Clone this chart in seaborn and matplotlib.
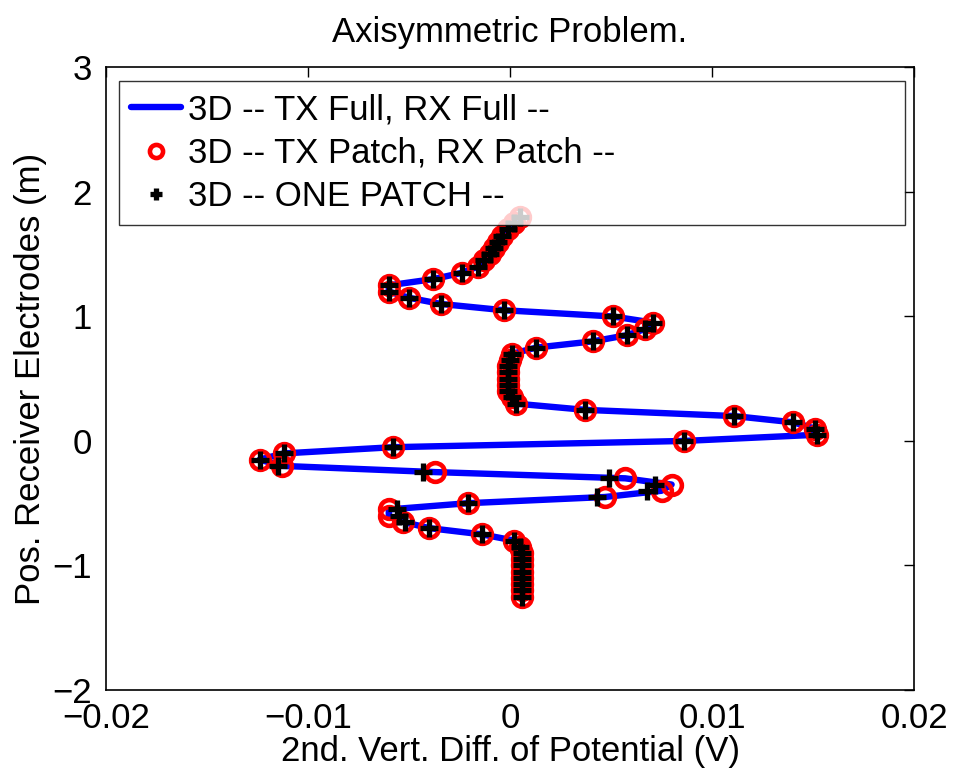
import numpy as np
import pandas as pd
import matplotlib
matplotlib.use("Agg")
import matplotlib.pyplot as plt
import seaborn as sns

# Receiver electrode positions (m), top to bottom
positions = [
    1.80, 1.75, 1.70, 1.65, 1.60, 1.55, 1.50, 1.45, 1.40, 1.35,
    1.30, 1.25, 1.20, 1.15, 1.10, 1.05, 1.00, 0.95, 0.90, 0.85,
    0.80, 0.75, 0.70, 0.65, 0.60, 0.55, 0.50, 0.45, 0.40, 0.35,
    0.30, 0.25, 0.20, 0.15, 0.10, 0.05, 0.00, -0.05, -0.10, -0.15,
    -0.20, -0.25, -0.30, -0.35, -0.40, -0.45, -0.50, -0.55, -0.60, -0.65,
    -0.70, -0.75, -0.80, -0.85, -0.90, -0.95, -1.00, -1.05, -1.10, -1.15,
    -1.20, -1.25,
]

# 3D -- TX Full, RX Full --
full_full = [
    0.0005, 0.0002, -0.0001, -0.0004, -0.0006, -0.0008, -0.0010, -0.0013, -0.0016, -0.0024,
    -0.0038, -0.0060, -0.0060, -0.0050, -0.0034, -0.0003, 0.0051, 0.0071, 0.0067, 0.0058,
    0.0041, 0.0013, 0.0001, 0.0000, -0.0001, -0.0001, -0.0001, -0.0001, -0.0001, 0.0001,
    0.0003, 0.0037, 0.0111, 0.0140, 0.0151, 0.0152, 0.0086, -0.0058, -0.0112, -0.0124,
    -0.0113, -0.0037, 0.0057, 0.0080, 0.0075, 0.0047, -0.0021, -0.0060, -0.0060, -0.0053,
    -0.0040, -0.0014, 0.0002, 0.0005, 0.0006, 0.0006, 0.0006, 0.0006, 0.0006, 0.0006,
    0.0006, 0.0006,
]

# 3D -- TX Patch, RX Patch --
patch_patch = list(full_full)

# 3D -- ONE PATCH --
one_patch = [
    0.0005, 0.0002, -0.0001, -0.0004, -0.0006, -0.0008, -0.0010, -0.0013, -0.0016, -0.0024,
    -0.0038, -0.0060, -0.0060, -0.0050, -0.0034, -0.0003, 0.0051, 0.0071, 0.0067, 0.0058,
    0.0041, 0.0013, 0.0001, 0.0000, -0.0001, -0.0001, -0.0001, -0.0001, -0.0001, 0.0001,
    0.0003, 0.0037, 0.0111, 0.0140, 0.0151, 0.0152, 0.0086, -0.0058, -0.0112, -0.0124,
    -0.0115, -0.0043, 0.0049, 0.0072, 0.0068, 0.0043, -0.0021, -0.0056, -0.0055, -0.0052,
    -0.0040, -0.0014, 0.0002, 0.0005, 0.0006, 0.0006, 0.0006, 0.0006, 0.0006, 0.0006,
    0.0006, 0.0006,
]

labels = [
    "3D -- TX Full, RX Full --",
    "3D -- TX Patch, RX Patch --",
    "3D -- ONE PATCH --",
]

x_ticks = [-0.02, -0.01, 0.0, 0.01, 0.02]
x_tick_labels = ["\u22120.02", "\u22120.01", "0", "0.01", "0.02"]
y_ticks = [-2, -1, 0, 1, 2, 3]
y_tick_labels = ["\u22122", "\u22121", "0", "1", "2", "3"]

df = pd.DataFrame({
    "pos": positions,
    "full": full_full,
    "patch": patch_patch,
    "one": one_patch,
})

sns.set_theme(style="white")
plt.rcParams["font.family"] = ["Liberation Sans", "DejaVu Sans"]
plt.rcParams["text.color"] = "black"
plt.rcParams["axes.labelcolor"] = "black"
FS = 25

fig = plt.figure(figsize=(9.54, 7.71), dpi=100)
ax = fig.add_axes([0.1111, 0.1051, 0.8470, 0.8074])

sns.lineplot(data=df, x="full", y="pos", sort=False, estimator=None,
             color="#0000ff", linewidth=4.6, label=labels[0], ax=ax)
sns.lineplot(data=df, x="patch", y="pos", sort=False, estimator=None,
             linestyle="", marker="o", markersize=13.5, markerfacecolor="none",
             markeredgecolor="#ff0000", markeredgewidth=3.3, color="#ff0000",
             label=labels[1], ax=ax)
sns.lineplot(data=df, x="one", y="pos", sort=False, estimator=None,
             linestyle="", marker="+", markersize=12.5, markeredgewidth=3.8,
             markeredgecolor="black", markerfacecolor="black",
             color="black", label=labels[2], ax=ax)

ax.set_xlim(-0.02, 0.02)
ax.set_ylim(-2, 3)
ax.set_xticks(x_ticks)
ax.set_xticklabels(x_tick_labels)
ax.set_yticks(y_ticks)
ax.set_yticklabels(y_tick_labels)
ax.tick_params(direction="in", top=True, right=True, length=7, width=1,
               labelsize=FS, colors="black")
ax.tick_params(axis="x", pad=9)
ax.tick_params(axis="y", pad=10)
for s in ax.spines.values():
    s.set_color("black")
    s.set_linewidth(1.2)

ax.set_title("Axisymmetric Problem.", fontsize=FS, pad=18, color="black")
ax.set_xlabel("2nd. Vert. Diff. of Potential (V)", fontsize=FS, labelpad=0)
ax.set_ylabel("Pos. Receiver Electrodes (m)", fontsize=FS, labelpad=4)

leg = ax.legend(loc="upper left", bbox_to_anchor=(0.016, 0.978, 0.973, 0.0),
                mode="expand", fontsize=FS, frameon=True, fancybox=False,
                borderaxespad=0.0, handlelength=1.45, handletextpad=0.2,
                labelspacing=0.3, borderpad=0.35, markerscale=0.7)
leg.get_frame().set_edgecolor("black")
leg.get_frame().set_linewidth(1.0)
for t in leg.get_texts():
    t.set_color("black")

fig.savefig("out.png", dpi=100)
